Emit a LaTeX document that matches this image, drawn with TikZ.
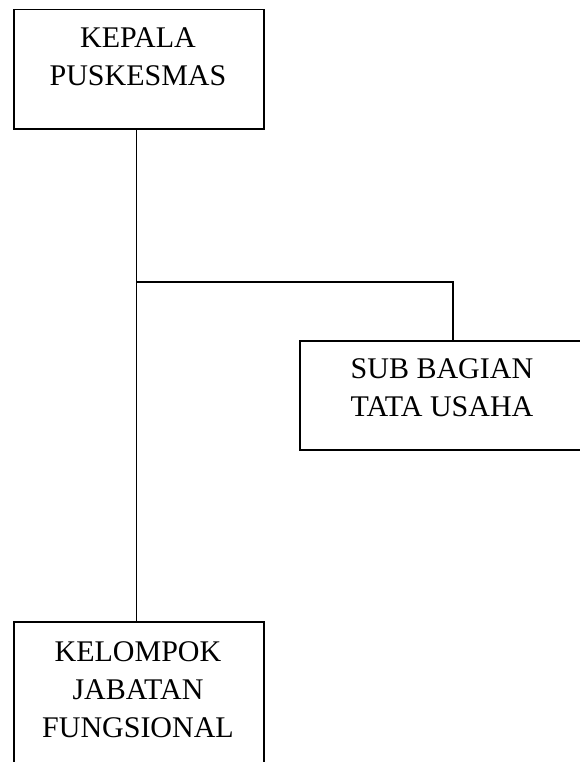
\documentclass[tikz,border=0pt]{standalone}
\usepackage{fontspec}
\setmainfont{Liberation Serif}
\begin{document}
\begin{tikzpicture}[x=1pt,y=-1pt,
  box/.style={draw=black,line width=1.5pt,inner sep=0pt,anchor=north west},
  lbl/.style={inner sep=0pt,anchor=north,align=center,font=\fontsize{30}{38}\selectfont},
  conn/.style={draw=black,line width=1.5pt}]
\useasboundingbox (0,0) rectangle (580,762);
\clip (0,0) rectangle (580,762);
\node[box,minimum width=250pt,minimum height=119.5pt] (kp) at (13,9) {};
\node[lbl] (kpt) at (138,27) {KEPALA\\PUSKESMAS};
\node[box,minimum width=286pt,minimum height=109pt] (sb) at (299,340) {};
\node[lbl] (sbt) at (442,358) {SUB BAGIAN\\TATA USAHA};
\node[box,minimum width=250pt,minimum height=170pt] (kj) at (13,621) {};
\node[lbl] (kjt) at (138,641) {KELOMPOK\\JABATAN\\FUNGSIONAL};
\coordinate (j) at (136.5,282);
\coordinate (t) at (453,282);
\draw[conn] (kp.south -| j) -- (kj.north -| j);
\draw[conn] (j) -- (t) -- (sb.north -| t);
\end{tikzpicture}
\end{document}
